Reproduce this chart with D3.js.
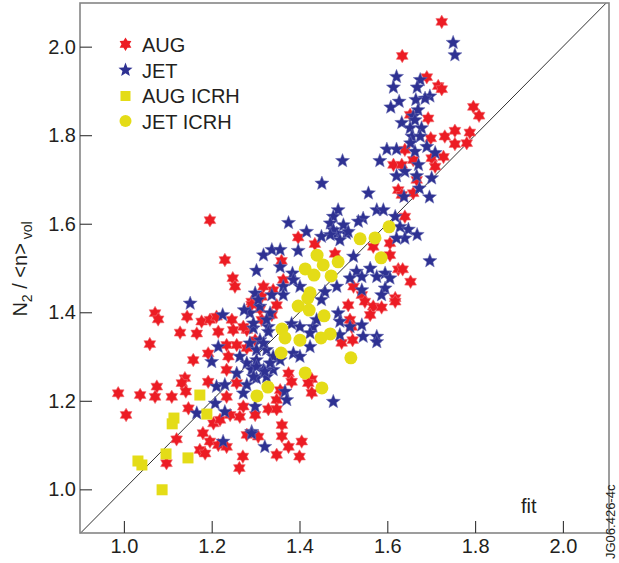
<!DOCTYPE html>
<html>
<head>
<meta charset="utf-8">
<script src="https://cdn.jsdelivr.net/npm/d3@7"></script>
<style>
html,body{margin:0;padding:0;background:#fff;}
svg{display:block;}
text{font-family:"Liberation Sans",Arial,Helvetica,sans-serif;fill:#231f20;}
</style>
</head>
<body>
<svg id="chart" width="619" height="563"></svg>
<script>
// ---------- data ----------
const seriesNames = ["AUG", "JET", "AUG ICRH", "JET ICRH"];
const xTicks = [1.0, 1.2, 1.4, 1.6, 1.8, 2.0];
const yTicks = [1.0, 1.2, 1.4, 1.6, 1.8, 2.0];
const fitLine = [0.9, 2.105];

const augData = [
[1.724,2.056],[1.634,1.979],[1.690,1.931],[1.716,1.911],[1.724,1.904],[1.796,1.864],[1.809,1.844],
[1.652,1.846],[1.693,1.838],[1.731,1.797],[1.754,1.810],[1.754,1.780],[1.788,1.806],[1.781,1.782],
[1.699,1.793],[1.640,1.767],[1.701,1.748],[1.728,1.751],[1.614,1.733],[1.633,1.733],[1.659,1.744],
[1.709,1.729],[1.667,1.699],[1.625,1.676],[1.633,1.665],[1.659,1.669],[1.640,1.616],[1.606,1.556],
[1.568,1.548],[1.606,1.529],[1.625,1.497],[1.635,1.497],[1.653,1.469],[1.618,1.432],[1.397,1.569],
[1.435,1.554],[1.481,1.532],[1.359,1.516],[1.363,1.473],[1.318,1.458],[1.340,1.450],[1.314,1.435],
[1.348,1.416],[1.337,1.394],[1.314,1.383],[1.511,1.416],[1.523,1.458],[1.542,1.439],[1.549,1.424],
[1.568,1.413],[1.587,1.411],[1.618,1.424],[1.561,1.394],[1.515,1.383],[1.519,1.367],[1.299,1.337],
[1.496,1.331],[1.521,1.337],[1.375,1.262],[1.382,1.243],[1.428,1.249],[1.420,1.240],[1.428,1.218],
[1.356,1.224],[1.348,1.202],[1.329,1.181],[1.348,1.181],[1.299,1.168],[1.360,1.145],[1.360,1.120],
[1.306,1.119],[1.375,1.096],[1.405,1.108],[1.348,1.078],[1.400,1.074],[1.230,1.518],[1.248,1.477],
[1.253,1.458],[1.071,1.398],[1.078,1.384],[1.144,1.390],[1.128,1.354],[1.059,1.328],[1.166,1.352],
[1.177,1.379],[1.196,1.383],[1.215,1.356],[1.246,1.383],[1.249,1.360],[1.280,1.360],[1.291,1.424],
[1.310,1.407],[1.234,1.326],[1.257,1.326],[1.280,1.319],[1.192,1.307],[1.158,1.292],[1.238,1.300],
[1.234,1.270],[1.257,1.240],[1.139,1.251],[1.132,1.240],[1.141,1.221],[1.075,1.232],[1.071,1.209],
[1.037,1.213],[0.987,1.217],[1.109,1.209],[1.005,1.168],[1.192,1.243],[1.234,1.209],[1.147,1.183],
[1.120,1.113],[1.097,1.059],[1.180,1.127],[1.196,1.108],[1.173,1.089],[1.185,1.081],[1.204,1.149],
[1.219,1.157],[1.242,1.168],[1.264,1.164],[1.272,1.187],[1.215,1.100],[1.234,1.096],[1.280,1.123],
[1.271,1.074],[1.263,1.048],[1.196,1.608],[1.211,1.390],[1.272,1.367],[1.291,1.417]
];

const jetData = [
[1.750,2.009],[1.754,1.981],[1.621,1.932],[1.614,1.908],[1.675,1.925],[1.668,1.908],[1.697,1.888],
[1.686,1.883],[1.627,1.876],[1.608,1.863],[1.665,1.880],[1.670,1.857],[1.659,1.843],[1.663,1.834],
[1.633,1.828],[1.652,1.816],[1.678,1.816],[1.656,1.797],[1.675,1.797],[1.653,1.782],[1.690,1.774],
[1.599,1.768],[1.621,1.768],[1.663,1.763],[1.709,1.760],[1.498,1.742],[1.583,1.742],[1.671,1.733],
[1.640,1.718],[1.621,1.708],[1.667,1.708],[1.701,1.703],[1.673,1.680],[1.638,1.661],[1.696,1.660],
[1.557,1.669],[1.488,1.631],[1.576,1.631],[1.591,1.631],[1.545,1.612],[1.534,1.605],[1.618,1.616],
[1.477,1.616],[1.470,1.601],[1.629,1.593],[1.648,1.587],[1.668,1.575],[1.640,1.567],[1.621,1.567],
[1.507,1.578],[1.485,1.578],[1.492,1.563],[1.697,1.516],[1.595,1.488],[1.606,1.477],[1.595,1.454],
[1.587,1.439],[1.375,1.602],[1.416,1.582],[1.500,1.597],[1.477,1.586],[1.470,1.575],[1.511,1.582],
[1.450,1.571],[1.397,1.539],[1.318,1.529],[1.337,1.541],[1.356,1.541],[1.302,1.494],[1.356,1.502],
[1.384,1.488],[1.523,1.526],[1.530,1.492],[1.561,1.499],[1.576,1.480],[1.515,1.477],[1.542,1.480],
[1.542,1.450],[1.485,1.458],[1.458,1.446],[1.450,1.428],[1.401,1.458],[1.386,1.473],[1.363,1.458],
[1.363,1.439],[1.337,1.439],[1.299,1.443],[1.310,1.413],[1.287,1.398],[1.382,1.374],[1.401,1.367],
[1.431,1.367],[1.439,1.383],[1.488,1.398],[1.492,1.379],[1.515,1.367],[1.542,1.371],[1.545,1.345],
[1.576,1.345],[1.492,1.349],[1.329,1.367],[1.295,1.364],[1.333,1.398],[1.424,1.353],[1.424,1.322],
[1.386,1.307],[1.401,1.300],[1.356,1.292],[1.576,1.333],[1.477,1.198],[1.367,1.221],[1.371,1.202],
[1.299,1.187],[1.291,1.130],[1.321,1.096],[1.151,1.420],[1.225,1.394],[1.274,1.405],[1.306,1.428],
[1.215,1.322],[1.200,1.288],[1.211,1.232],[1.230,1.236],[1.280,1.285],[1.264,1.300],[1.257,1.262],
[1.280,1.236],[1.272,1.217],[1.208,1.194],[1.230,1.175],[1.166,1.172],[1.295,1.375],[1.325,1.383],
[1.329,1.356],[1.310,1.337],[1.325,1.315],[1.340,1.300],[1.302,1.292],[1.291,1.270],[1.318,1.270],
[1.340,1.270],[1.325,1.254],[1.302,1.251],[1.287,1.330],[1.291,1.126],[1.226,1.108],[1.451,1.691],
[1.302,1.315],[1.318,1.330],[1.333,1.285],[1.302,1.277],[1.321,1.266],[1.295,1.254]
];

const augIcrhData = [
[1.173,1.213],[1.114,1.161],[1.110,1.148],[1.189,1.170],[1.096,1.080],
[1.146,1.071],[1.032,1.064],[1.041,1.055],[1.087,0.999]
];

const jetIcrhData = [
[1.604,1.593],[1.538,1.566],[1.572,1.568],[1.440,1.529],[1.454,1.507],[1.488,1.514],[1.586,1.523],
[1.413,1.498],[1.433,1.484],[1.472,1.482],[1.424,1.444],[1.419,1.432],[1.397,1.414],[1.422,1.405],
[1.456,1.392],[1.360,1.362],[1.367,1.342],[1.401,1.337],[1.449,1.342],[1.470,1.351],[1.358,1.308],
[1.517,1.297],[1.413,1.263],[1.328,1.231],[1.451,1.229],[1.303,1.211]
];

// ---------- chart ----------
const svg = d3.select("#chart");
const mLeft = 80, mRight = 609, mTop = 2.4, mBottom = 533.6;
const x = d3.scaleLinear().domain([0.9, 2.105]).range([mLeft, mRight]);
const y = d3.scaleLinear().domain([0.9, 2.1]).range([mBottom, mTop]);

const colors = {aug: "#ec1c24", jet: "#2e3192", yellow: "#e4dc17"};

function starPath(points, rOut, rIn) {
  const pts = [];
  for (let i = 0; i < points * 2; i++) {
    const r = i % 2 === 0 ? rOut : rIn;
    const a = -Math.PI / 2 + i * Math.PI / points;
    pts.push([r * Math.cos(a), r * Math.sin(a)]);
  }
  return d3.line()(pts) + "Z";
}
const hexStar = starPath(6, 6.8, 4.0);
const pentStar = starPath(5, 7.4, 3.2);

svg.append("defs").append("clipPath").attr("id", "clip")
  .append("rect").attr("x", mLeft).attr("y", 3).attr("width", mRight - mLeft).attr("height", mBottom - 3);

// fit line y = x
svg.append("line")
  .attr("clip-path", "url(#clip)")
  .attr("x1", x(fitLine[0])).attr("y1", y(fitLine[0]))
  .attr("x2", x(fitLine[1])).attr("y2", y(fitLine[1]))
  .attr("stroke", "#1a1a1a").attr("stroke-width", 0.9);

const g = svg.append("g");

g.selectAll(".aug").data(augData).join("path")
  .attr("class", "aug")
  .attr("d", hexStar)
  .attr("transform", d => `translate(${x(d[0])},${y(d[1])})`)
  .attr("fill", colors.aug).attr("stroke", "#f26d72").attr("stroke-width", 0.6);

g.selectAll(".jet").data(jetData).join("path")
  .attr("class", "jet")
  .attr("d", pentStar)
  .attr("transform", d => `translate(${x(d[0])},${y(d[1])})`)
  .attr("fill", colors.jet).attr("stroke", "#6d70b5").attr("stroke-width", 0.5);

g.selectAll(".augicrh").data(augIcrhData).join("rect")
  .attr("class", "augicrh")
  .attr("x", d => x(d[0]) - 5.5).attr("y", d => y(d[1]) - 5.5)
  .attr("width", 11).attr("height", 11)
  .attr("fill", colors.yellow);

g.selectAll(".jeticrh").data(jetIcrhData).join("circle")
  .attr("class", "jeticrh")
  .attr("cx", d => x(d[0])).attr("cy", d => y(d[1]))
  .attr("r", 6.5)
  .attr("fill", colors.yellow);

// frame
svg.append("rect")
  .attr("x", mLeft).attr("y", 3).attr("width", mRight - mLeft).attr("height", mBottom - 3 - 0.6)
  .attr("fill", "none").attr("stroke", "#858585").attr("stroke-width", 1.6);

// axes
const fmt = d3.format(".1f");
const yAxis = svg.append("g").attr("transform", `translate(${mLeft},0)`)
  .call(d3.axisLeft(y).tickValues(yTicks).tickSize(-12).tickPadding(4).tickFormat(fmt));
const xAxis = svg.append("g").attr("transform", `translate(0,533)`)
  .call(d3.axisBottom(x).tickValues(xTicks).tickSize(-12).tickPadding(5.5).tickFormat(fmt));
[xAxis, yAxis].forEach(a => {
  a.select(".domain").remove();
  a.selectAll(".tick line").attr("stroke", "#333").attr("stroke-width", 1.1);
  a.selectAll(".tick text").attr("font-size", 20).attr("fill", "#231f20")
    .attr("font-family", "'Liberation Sans', Arial, sans-serif");
});

// y-axis title
const yt = svg.append("text")
  .attr("transform", "translate(27,269) rotate(-90)")
  .attr("text-anchor", "middle").attr("font-size", 20);
yt.append("tspan").text("N");
yt.append("tspan").attr("font-size", 14).attr("dy", 5).text("2");
yt.append("tspan").attr("dy", -5).text(" / <n>");
yt.append("tspan").attr("font-size", 14).attr("dy", 5).text(" vol");

// fit label
svg.append("text").attr("x", 521).attr("y", 513).attr("font-size", 20).text("fit");

// figure id along the right edge
svg.append("text")
  .attr("transform", "translate(615,559) rotate(-90)")
  .attr("font-size", 13).text("JG06.426-4c");

// legend
const legend = svg.append("g");
const legY = [44.3, 70, 96, 121];
const legBase = [51.7, 77.7, 103.3, 128.5];
seriesNames.forEach((name, i) => {
  const cx = 125.5, cy = legY[i];
  if (i === 0) legend.append("path").attr("d", hexStar).attr("transform", `translate(${cx},${cy})`).attr("fill", colors.aug);
  if (i === 1) legend.append("path").attr("d", pentStar).attr("transform", `translate(${cx},${cy})`).attr("fill", colors.jet);
  if (i === 2) legend.append("rect").attr("x", cx - 5).attr("y", cy - 5).attr("width", 10).attr("height", 10).attr("fill", colors.yellow);
  if (i === 3) legend.append("circle").attr("cx", cx).attr("cy", cy).attr("r", 6).attr("fill", colors.yellow);
  legend.append("text").attr("x", 142).attr("y", legBase[i]).attr("font-size", 20).text(name);
});
</script>
</body>
</html>
